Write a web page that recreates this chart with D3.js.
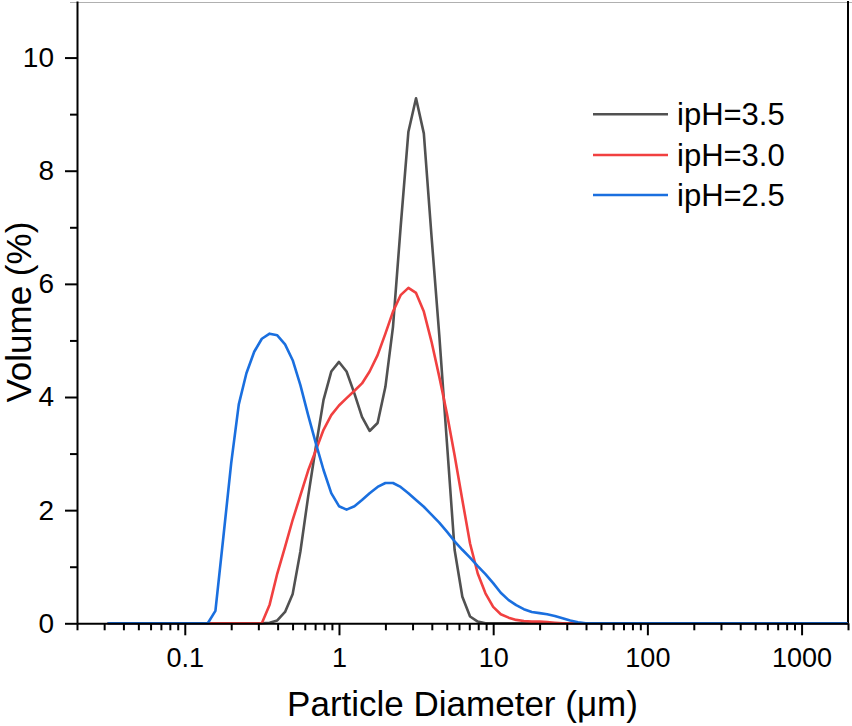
<!DOCTYPE html>
<html>
<head>
<meta charset="utf-8">
<script src="https://cdn.jsdelivr.net/npm/d3@7"></script>
<style>
  html, body { margin: 0; padding: 0; background: #fff; }
  svg { display: block; font-family: "Liberation Sans", Arial, sans-serif; }
</style>
</head>
<body>
<svg id="chart" width="852" height="726"></svg>
<script>
// Particle diameters (µm) — measurement bins (20 per decade); flat zero regions collapsed
const diameters = [0.0316, 0.126, 0.141, 0.158, 0.178, 0.2, 0.224, 0.251, 0.282, 0.316, 0.355, 0.398,
  0.447, 0.501, 0.562, 0.631, 0.708, 0.794, 0.891, 1, 1.12, 1.26, 1.41, 1.58, 1.78, 2.0, 2.24, 2.51,
  2.82, 3.16, 3.55, 3.98, 4.47, 5.01, 5.62, 6.31, 7.08, 7.94, 8.91, 10, 11.2, 12.6, 14.1, 15.8, 17.8,
  20, 22.4, 25.1, 28.2, 31.6, 35.5, 39.8, 44.7, 1995];

const volume_pH35 = [0, 0, 0, 0, 0, 0, 0, 0, 0, 0, 0.01, 0.05,
  0.2, 0.52, 1.27, 2.24, 3.12, 3.95, 4.45, 4.62, 4.45, 4.06, 3.65, 3.40, 3.54, 4.18, 5.24, 7.0,
  8.69, 9.28, 8.66, 6.85, 5.1, 3.2, 1.3, 0.47, 0.12, 0.03, 0, 0, 0, 0, 0, 0, 0,
  0, 0, 0, 0, 0, 0, 0, 0, 0];

const volume_pH30 = [0, 0, 0, 0, 0, 0, 0, 0, 0, 0, 0.33, 0.88,
  1.35, 1.83, 2.26, 2.70, 3.06, 3.42, 3.68, 3.85, 3.98, 4.11, 4.24, 4.45, 4.74, 5.12, 5.51, 5.80,
  5.93, 5.84, 5.51, 4.98, 4.36, 3.71, 2.97, 2.18, 1.41, 0.88, 0.53, 0.29, 0.16, 0.10, 0.06, 0.04, 0.03,
  0.03, 0.02, 0.01, 0, 0, 0, 0, 0, 0];

const volume_pH25 = [0, 0, 0, 0.22, 1.53, 2.83, 3.87, 4.42, 4.80, 5.03, 5.12, 5.09,
  4.93, 4.65, 4.21, 3.68, 3.18, 2.71, 2.30, 2.07, 2.01, 2.07, 2.18, 2.30, 2.41, 2.48, 2.48, 2.41,
  2.30, 2.18, 2.06, 1.92, 1.78, 1.62, 1.45, 1.30, 1.16, 1.01, 0.87, 0.71, 0.54, 0.41, 0.32, 0.25, 0.20,
  0.18, 0.16, 0.13, 0.09, 0.05, 0.02, 0, 0, 0];

const seriesNames = ["ipH=3.5", "ipH=3.0", "ipH=2.5"];
const seriesColors = ["#515151", "#F14040", "#1A6FDF"];

const xMajorTicks = [0.1, 1, 10, 100, 1000];
const xTickLabels = ["0.1", "1", "10", "100", "1000"];
const yMajorTicks = [0, 2, 4, 6, 8, 10];
const yMinorTicks = [1, 3, 5, 7, 9];

const xTitle = "Particle Diameter (μm)";
const yTitle = "Volume (%)";

// ---- layout ----
const svg = d3.select("#chart");
const pLeft = 77, pRight = 848, pTop = 1, pBottom = 623.3;

const x = d3.scaleLog().domain([0.02, 2000]).range([pLeft, pRight]);
const y = d3.scaleLinear().domain([0, 11]).range([pBottom, pTop]);

// minor x ticks: 2..9 of every decade inside domain
const xMinorTicks = [];
[0.01, 0.1, 1, 10, 100, 1000].forEach(dec => {
  for (let k = 2; k <= 9; k++) {
    const v = +(dec * k).toPrecision(3);
    if (v >= 0.02 && v <= 2000) xMinorTicks.push(v);
  }
});

// frame: top (light) and right
svg.append("line").attr("x1", pLeft - 7).attr("x2", 852).attr("y1", pTop + 1.5).attr("y2", pTop + 1.5)
  .attr("stroke", "#b0b0b0").attr("stroke-width", 1);
svg.append("line").attr("x1", pRight).attr("x2", pRight).attr("y1", pTop).attr("y2", pBottom)
  .attr("stroke", "#000").attr("stroke-width", 2);

// curves
const allSeries = [volume_pH35, volume_pH30, volume_pH25];
const line = d3.line().x(d => x(d[0])).y(d => y(d[1]));
[0, 1, 2].forEach(i => {
  const pts = diameters.map((dv, j) => [dv, allSeries[i][j]]);
  svg.append("path").datum(pts)
    .attr("d", line)
    .attr("fill", "none")
    .attr("stroke", seriesColors[i])
    .attr("stroke-width", 2.6)
    .attr("stroke-linejoin", "round");
});

// axes
function styleAxis(g) {
  g.selectAll("path.domain").attr("stroke", "#000").attr("stroke-width", 2);
  g.selectAll(".tick line").attr("stroke", "#000").attr("stroke-width", 2);
  g.selectAll("text").attr("fill", "#000").style("font-family", "'Liberation Sans', Arial, sans-serif");
}

// X minor
svg.append("g").attr("transform", `translate(0,${pBottom})`)
  .call(d3.axisBottom(x).tickValues(xMinorTicks).tickSize(7).tickFormat(""))
  .call(g => { styleAxis(g); g.select("path.domain").remove(); });
// X major
svg.append("g").attr("transform", `translate(0,${pBottom})`)
  .call(d3.axisBottom(x).tickValues(xMajorTicks).tickSize(12).tickPadding(13)
    .tickFormat((d, i) => xTickLabels[i]).tickSizeOuter(0))
  .call(styleAxis)
  .call(g => g.selectAll("text").style("font-size", "27px"));

// Y minor
svg.append("g").attr("transform", `translate(${pLeft},0)`)
  .call(d3.axisLeft(y).tickValues(yMinorTicks).tickSize(7).tickFormat(""))
  .call(g => { styleAxis(g); g.select("path.domain").remove(); });
// Y major
svg.append("g").attr("transform", `translate(${pLeft},0)`)
  .call(d3.axisLeft(y).tickValues(yMajorTicks).tickSize(12).tickPadding(11)
    .tickFormat(d3.format("d")).tickSizeOuter(0))
  .call(styleAxis)
  .call(g => g.selectAll("text").style("font-size", "28px"));

// axis titles
svg.append("text")
  .attr("x", (pLeft + pRight) / 2).attr("y", 716)
  .attr("text-anchor", "middle")
  .style("font-size", "35px").attr("fill", "#000")
  .text(xTitle);
svg.append("text")
  .attr("transform", `translate(31,${(pTop + pBottom) / 2}) rotate(-90)`)
  .attr("text-anchor", "middle")
  .style("font-size", "35px").attr("fill", "#000")
  .text(yTitle);

// legend
const legY = [114.3, 155, 195];
const leg = svg.append("g");
seriesNames.forEach((name, i) => {
  leg.append("line").attr("x1", 593).attr("x2", 668)
    .attr("y1", legY[i]).attr("y2", legY[i])
    .attr("stroke", seriesColors[i]).attr("stroke-width", 2.6);
  leg.append("text").attr("x", 677).attr("y", legY[i]).attr("dy", "0.36em")
    .style("font-size", "31px").attr("fill", "#000")
    .text(name);
});
</script>
</body>
</html>
